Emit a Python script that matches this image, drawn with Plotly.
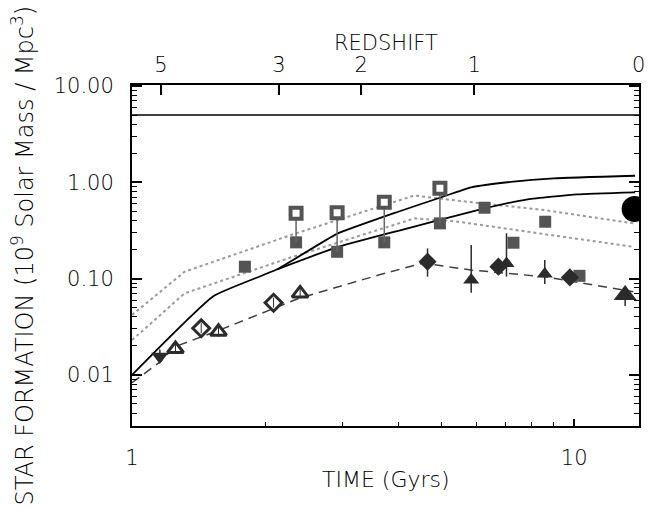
import plotly.graph_objects as go
import numpy as np

# ---- data (time in Gyr, star formation in 1e9 Msun / Mpc^3) ----
solid_upper_t = [1.0, 1.53, 2.13, 2.90, 4.0, 4.97, 5.85, 7.19, 9.0, 13.73]
solid_upper_v = [0.0100, 0.066, 0.125, 0.290, 0.495, 0.692, 0.887, 1.01, 1.10, 1.17]
solid_lower_t = [2.13, 2.90, 4.0, 6.05, 7.85, 10.16, 13.73]
solid_lower_v = [0.125, 0.211, 0.314, 0.516, 0.666, 0.75, 0.787]

dotted_upper_t = [1.0, 1.315, 2.32, 4.35, 5.46, 8.55, 13.6]
dotted_upper_v = [0.0419, 0.118, 0.29, 0.73, 0.644, 0.516, 0.375]
dotted_lower_t = [1.0, 1.315, 2.265, 4.36, 5.46, 13.6]
dotted_lower_v = [0.023, 0.0704, 0.1637, 0.423, 0.39, 0.214]

dashed_t = [1.0, 1.156, 1.249, 1.577, 2.385, 3.61, 4.55, 5.85, 8.55, 13.6]
dashed_v = [0.0083, 0.0136, 0.0196, 0.0292, 0.0624, 0.109, 0.145, 0.1228, 0.1047, 0.0731]

open_sq_t = [2.35, 2.91, 3.72, 4.97]
open_sq_v = [0.477, 0.483, 0.62, 0.867]
open_sq_low = [0.238, 0.19, 0.238, 0.375]

filled_sq_t = [1.80, 2.35, 2.91, 3.72, 4.97, 6.27, 7.29, 8.6, 10.28]
filled_sq_v = [0.133, 0.238, 0.19, 0.238, 0.375, 0.545, 0.236, 0.39, 0.107]

diamond_t = [4.66, 6.74, 9.78]
diamond_v = [0.150, 0.133, 0.103]
diamond_lo = [0.105, 0.112, 0.103]
diamond_hi = [0.206, 0.150, 0.103]

tri_t = [5.85, 7.03, 8.58]
tri_v = [0.0967, 0.144, 0.112]
tri_lo = [0.0715, 0.105, 0.088]
tri_hi = [0.223, 0.296, 0.156]

big_tri_t = [13.04]
big_tri_v = [0.0676]
big_tri_lo = [0.052]
big_tri_hi = [0.080]

tri_down_t = [1.156]
tri_down_v = [0.0155]
tri_down_lo = [0.0134]
tri_down_hi = [0.0184]

open_tri_t = [1.254, 1.569, 2.40]
open_tri_v = [0.0186, 0.0281, 0.0703]
open_tri_lo = [0.0165, 0.025, 0.0625]
open_tri_hi = [0.021, 0.0318, 0.079]

open_dia_t = [1.434, 2.09]
open_dia_v = [0.0305, 0.0562]
open_dia_lo = [0.027, 0.050]
open_dia_hi = [0.0345, 0.0635]

local_t = [13.7]
local_v = [0.528]

ceiling_v = 5.0

redshift_labels = ["5", "3", "2", "1", "0"]
redshift_times = [1.162, 2.15, 3.30, 5.94, 14.0]

y_ticks = [0.01, 0.1, 1.0, 10.0]
y_ticktext = ["0.01", "0.10", "1.00", "10.00"]

T_MAX = 14.0
X_RANGE = [0, np.log10(T_MAX) + 0.0005]
Y_RANGE = [np.log10(0.00295), np.log10(10.25)]

FONT = "DejaVu Sans"
FS = 21
FW = 300
DARK = "#2b2b2b"
GREY = "#545454"
LIGHT = "#9a9a9a"


def err(v, lo, hi):
    return dict(type="data", symmetric=False,
                array=[h - c for c, h in zip(v, hi)],
                arrayminus=[c - l for c, l in zip(v, lo)])


fig = go.Figure()

# model curves
fig.add_trace(go.Scatter(x=dotted_upper_t, y=dotted_upper_v, mode="lines",
                         line=dict(color=LIGHT, width=2, dash="dot")))
fig.add_trace(go.Scatter(x=dotted_lower_t, y=dotted_lower_v, mode="lines",
                         line=dict(color=LIGHT, width=2, dash="dot")))
fig.add_trace(go.Scatter(x=dashed_t, y=dashed_v, mode="lines",
                         line=dict(color="#404040", width=1.5, dash="9px,6px")))
fig.add_trace(go.Scatter(x=solid_upper_t, y=solid_upper_v, mode="lines",
                         line=dict(color="black", width=1.8, shape="spline", smoothing=0.4)))
fig.add_trace(go.Scatter(x=solid_lower_t, y=solid_lower_v, mode="lines",
                         line=dict(color="black", width=1.8, shape="spline", smoothing=0.4)))

# horizontal reference level, drawn on the redshift axis
fig.add_trace(go.Scatter(x=[1.0, T_MAX], y=[ceiling_v, ceiling_v], mode="lines",
                         xaxis="x2", line=dict(color="black", width=1.5)))

# filled squares
fig.add_trace(go.Scatter(x=filled_sq_t, y=filled_sq_v, mode="markers",
                         marker=dict(symbol="square", size=12, color=GREY,
                                     line=dict(width=0))))

# open squares joined down to their corrected values
fig.add_trace(go.Scatter(
    x=open_sq_t, y=open_sq_v, mode="markers",
    error_y=dict(type="data", symmetric=False, array=[0] * len(open_sq_v),
                 arrayminus=[o - l for o, l in zip(open_sq_v, open_sq_low)],
                 color="#666666", thickness=1.5, width=0),
    marker=dict(symbol="square", size=11, color="white",
                line=dict(color=GREY, width=4))))

# filled diamonds
fig.add_trace(go.Scatter(
    x=diamond_t, y=diamond_v, mode="markers",
    error_y=dict(**err(diamond_v, diamond_lo, diamond_hi), color=DARK, thickness=1.5, width=0),
    marker=dict(symbol="diamond", size=14, color=DARK, line=dict(width=0))))

# filled triangles
fig.add_trace(go.Scatter(
    x=tri_t, y=tri_v, mode="markers",
    error_y=dict(**err(tri_v, tri_lo, tri_hi), color=DARK, thickness=1.5, width=0),
    marker=dict(symbol="triangle-up", size=14, color=DARK, line=dict(width=0))))
fig.add_trace(go.Scatter(
    x=big_tri_t, y=big_tri_v, mode="markers",
    error_y=dict(**err(big_tri_v, big_tri_lo, big_tri_hi), color=DARK, thickness=1.5, width=0),
    marker=dict(symbol="triangle-up", size=20, color=DARK, line=dict(width=0))))
fig.add_trace(go.Scatter(
    x=tri_down_t, y=tri_down_v, mode="markers",
    error_y=dict(**err(tri_down_v, tri_down_lo, tri_down_hi), color=DARK, thickness=1.5, width=0),
    marker=dict(symbol="triangle-down", size=15, color=DARK, line=dict(width=0))))

# open triangles and diamonds
fig.add_trace(go.Scatter(
    x=open_tri_t, y=open_tri_v, mode="markers",
    marker=dict(symbol="triangle-up", size=14, color="white",
                line=dict(color=DARK, width=3))))
fig.add_trace(go.Scatter(
    x=open_tri_t, y=open_tri_v, mode="markers",
    error_y=dict(**err(open_tri_v, open_tri_lo, open_tri_hi), color=DARK, thickness=1, width=0),
    marker=dict(size=1, color="rgba(0,0,0,0)")))
fig.add_trace(go.Scatter(
    x=open_dia_t, y=open_dia_v, mode="markers",
    marker=dict(symbol="diamond", size=13, color="white",
                line=dict(color=DARK, width=3))))
fig.add_trace(go.Scatter(
    x=open_dia_t, y=open_dia_v, mode="markers",
    error_y=dict(**err(open_dia_v, open_dia_lo, open_dia_hi), color=DARK, thickness=1, width=0),
    marker=dict(size=1, color="rgba(0,0,0,0)")))

# local value
fig.add_trace(go.Scatter(x=local_t, y=local_v, mode="markers",
                         marker=dict(symbol="circle", size=26, color="black",
                                     line=dict(width=0))))

minor_x = [m * 10 ** d for d in range(0, 2) for m in range(2, 10) if m * 10 ** d < T_MAX]
minor_y = [m * 10.0 ** d for d in range(-3, 1) for m in range(2, 10)
           if 0.00295 < m * 10.0 ** d < 10.25]

tick_font = dict(family=FONT, size=FS, weight=FW, color="black")

fig.update_layout(
    width=657, height=509,
    margin=dict(l=132, r=15, t=85, b=83),
    paper_bgcolor="white", plot_bgcolor="white",
    showlegend=False,
    font=dict(family=FONT, size=FS, color="black", weight=FW),
    xaxis=dict(type="log", range=X_RANGE, showgrid=False, zeroline=False,
               showline=True, linecolor="black", linewidth=2, mirror=True,
               tickmode="array", tickvals=[1, 10], ticktext=["1", "10"],
               ticks="inside", ticklen=7, tickwidth=1.5, tickcolor="black",
               ticklabelstandoff=12, tickfont=tick_font,
               minor=dict(tickmode="array", tickvals=minor_x, ticks="inside",
                          ticklen=4, tickwidth=1, tickcolor="black", showgrid=False)),
    xaxis2=dict(type="log", range=X_RANGE, overlaying="x", side="top",
                showgrid=False, zeroline=False, showline=True, linecolor="black",
                linewidth=2, tickmode="array", tickvals=redshift_times,
                ticktext=redshift_labels, ticks="inside", ticklen=10,
                tickwidth=1.5, tickcolor="black", ticklabelstandoff=3,
                tickfont=tick_font),
    yaxis=dict(type="log", range=Y_RANGE, showgrid=False, zeroline=False,
               showline=True, linecolor="black", linewidth=2, mirror="ticks",
               tickmode="array", tickvals=y_ticks, ticktext=y_ticktext,
               ticks="inside", ticklen=10, tickwidth=1.5, tickcolor="black",
               ticklabelstandoff=12, tickfont=tick_font,
               minor=dict(tickmode="array", tickvals=minor_y, ticks="inside",
                          ticklen=5, tickwidth=1, tickcolor="black", showgrid=False)),
    annotations=[
        dict(text="TIME (Gyrs)", xref="paper", yref="paper", x=0.5, y=0,
             xanchor="center", yanchor="middle", yshift=-53, showarrow=False,
             font=dict(family=FONT, size=22, weight=FW, color="black")),
        dict(text="REDSHIFT", xref="paper", yref="paper", x=0.5, y=1,
             xanchor="center", yanchor="middle", yshift=42, showarrow=False,
             font=dict(family=FONT, size=FS, weight=FW, color="black")),
        dict(text="STAR FORMATION (10<sup>9</sup> Solar Mass / Mpc<sup>3</sup>)",
             xref="paper", yref="paper", x=0, y=0.5, xanchor="center",
             yanchor="middle", xshift=-110, textangle=-90, showarrow=False,
             font=dict(family=FONT, size=24, weight=FW, color="black")),
    ],
)

fig.write_html("out.html")
